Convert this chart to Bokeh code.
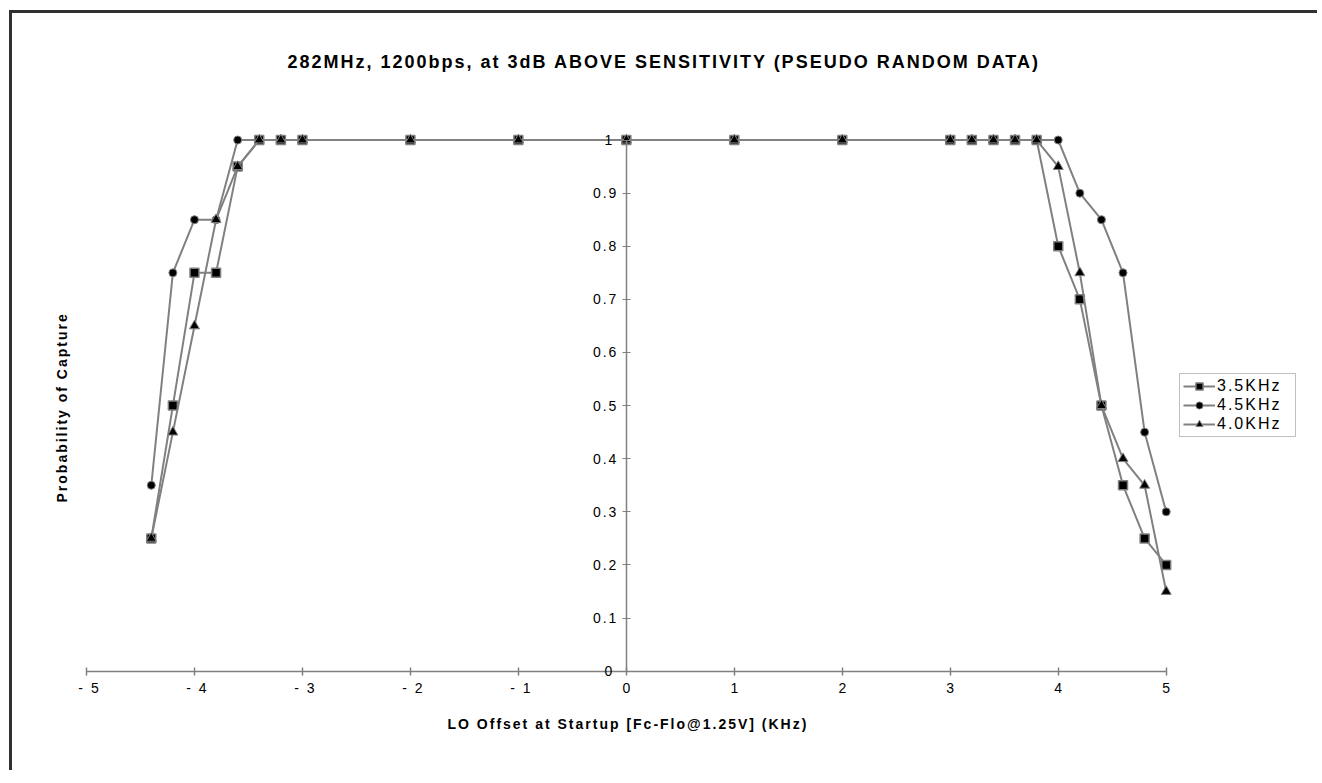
from bokeh.plotting import figure
from bokeh.models import (FixedTicker, CustomJSTickFormatter, Legend, LegendItem, Title)
from bokeh.embed import file_html
from bokeh.resources import INLINE

# ---- data ----
offset_khz = [-4.4, -4.2, -4.0, -3.8, -3.6, -3.4, -3.2, -3.0, -2, -1, 0, 1, 2, 3,
              3.2, 3.4, 3.6, 3.8, 4.0, 4.2, 4.4, 4.6, 4.8, 5.0]
p_35khz = [0.25, 0.5, 0.75, 0.75, 0.95, 1, 1, 1, 1, 1, 1, 1, 1, 1,
           1, 1, 1, 1, 0.8, 0.7, 0.5, 0.35, 0.25, 0.2]
p_45khz = [0.35, 0.75, 0.85, 0.85, 1, 1, 1, 1, 1, 1, 1, 1, 1, 1,
           1, 1, 1, 1, 1, 0.9, 0.85, 0.75, 0.45, 0.3]
p_40khz = [0.25, 0.45, 0.65, 0.85, 0.95, 1, 1, 1, 1, 1, 1, 1, 1, 1,
           1, 1, 1, 1, 0.95, 0.75, 0.5, 0.4, 0.35, 0.15]
series_names = ["3.5KHz", "4.5KHz", "4.0KHz"]
x_ticks = [-5, -4, -3, -2, -1, 0, 1, 2, 3, 4, 5]
y_ticks = [0, 0.1, 0.2, 0.3, 0.4, 0.5, 0.6, 0.7, 0.8, 0.9, 1.0]

title_text = "282MHz, 1200bps, at 3dB ABOVE SENSITIVITY (PSEUDO RANDOM DATA)"
x_label = "LO  Offset  at  Startup  [Fc-Flo@1.25V]  (KHz)"
y_label = "Probability  of  Capture"

FONT = "Liberation Sans"
GRAY = "#808080"

p = figure(width=1308, height=760, x_range=(-5.102, 6.3735), y_range=(-0.0571, 1.0876),
           output_backend="svg", toolbar_location=None,
           min_border_left=63, min_border_right=6, min_border_bottom=72,
           min_border_top=80)
p.styles = {"border-top": "3px solid #303030", "border-left": "3px solid #303030",
            "margin-left": "9px", "margin-top": "10px",
            "letter-spacing": "2px", "white-space": "pre"}

p.title.text = title_text
p.title.align = "left"
p.title.offset = 212
p.title.text_font = FONT
p.title.text_font_size = "18px"
p.title.text_font_style = "bold"
p.title.text_color = "#000000"
p.title.standoff = 44

p.xgrid.visible = False
p.ygrid.visible = False
p.outline_line_color = None
p.background_fill_color = "white"
p.border_fill_color = "white"

# x axis, crossing at y = 0
xa = p.xaxis[0]
xa.fixed_location = 0
xa.ticker = FixedTicker(ticks=x_ticks)
xa.bounds = (-5, 5)
xa.formatter = CustomJSTickFormatter(code="return tick < 0 ? '- ' + Math.abs(tick) : String(tick);")
xa.axis_line_color = GRAY
xa.axis_line_width = 1.5
xa.major_tick_line_color = GRAY
xa.major_tick_line_width = 1.5
xa.major_tick_in = 4
xa.major_tick_out = 4
xa.minor_tick_line_color = None
xa.major_label_text_font = FONT
xa.major_label_text_font_size = "14px"
xa.major_label_text_color = "#000000"
xa.major_label_standoff = 5

xtitle = Title(text=x_label, align="left", offset=372, vertical_align="top",
               text_font=FONT, text_font_size="14px", text_font_style="bold",
               text_color="#000000", standoff=28)
p.add_layout(xtitle, "below")

# y axis, crossing at x = 0
ya = p.yaxis[0]
ya.fixed_location = 0
ya.ticker = FixedTicker(ticks=y_ticks)
ya.bounds = (0, 1)
ya.formatter = CustomJSTickFormatter(code="return String(Number(tick.toFixed(1)));")
ya.axis_line_color = GRAY
ya.axis_line_width = 1.5
ya.major_tick_line_color = GRAY
ya.major_tick_line_width = 1
ya.major_tick_in = 4
ya.major_tick_out = 4
ya.minor_tick_line_color = None
ya.major_label_text_font = FONT
ya.major_label_text_font_size = "14px"
ya.major_label_text_color = "#000000"
ya.major_label_standoff = 10

ytitle = Title(text=y_label, align="left", offset=199, text_font=FONT,
               text_font_size="14px", text_font_style="bold", text_color="#000000",
               standoff=12)
p.add_layout(ytitle, "left")

# series (circles first, then squares, then triangles on top)
common_line = dict(line_color=GRAY, line_width=2)
l45 = p.line(offset_khz, p_45khz, **common_line)
m45 = p.scatter(offset_khz, p_45khz, marker="circle", size=8, fill_color="black",
                line_color=GRAY, line_width=1)
l35 = p.line(offset_khz, p_35khz, **common_line)
m35 = p.scatter(offset_khz, p_35khz, marker="square", size=9, fill_color="black",
                line_color=GRAY, line_width=1.5)
l40 = p.line(offset_khz, p_40khz, **common_line)
m40 = p.scatter(offset_khz, p_40khz, marker="triangle", size=10, fill_color="black",
                line_color=GRAY, line_width=1)

legend = Legend(items=[
    LegendItem(label=series_names[0], renderers=[l35, m35]),
    LegendItem(label=series_names[1], renderers=[l45, m45]),
    LegendItem(label=series_names[2], renderers=[l40, m40]),
], location=(1104, 264))
legend.label_text_font = FONT
legend.label_text_font_size = "16px"
legend.label_text_color = "#000000"
legend.label_standoff = 2
legend.label_width = 75
legend.glyph_width = 32
legend.glyph_height = 18
legend.label_height = 18
legend.spacing = 1
legend.padding = 3
legend.margin = 0
legend.border_line_color = GRAY
legend.border_line_width = 1
p.add_layout(legend, "center")

open("out.html", "w").write(file_html(p, INLINE))
